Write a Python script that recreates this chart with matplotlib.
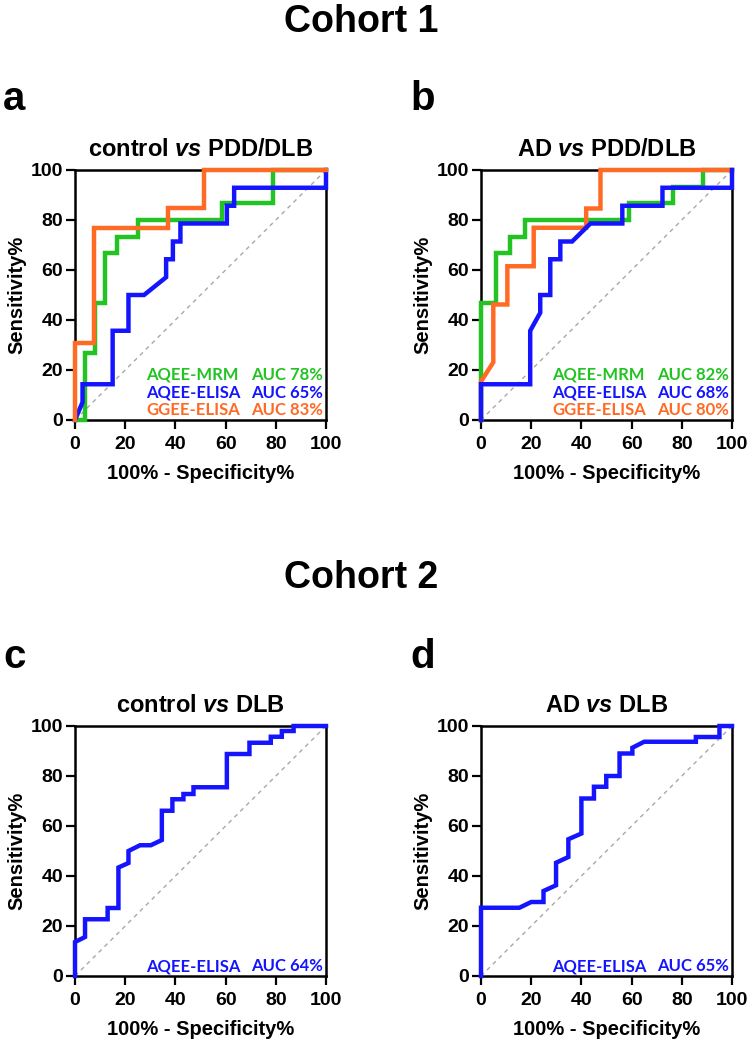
import matplotlib
matplotlib.use("Agg")
import matplotlib.pyplot as plt

# ---------------- data ----------------
ticks = [0, 20, 40, 60, 80, 100]

# Panel a: control vs PDD/DLB (Cohort 1)
a_mrm_x = [0, 4, 4, 8, 8, 12, 12, 16.6, 16.6, 25, 25, 58.5, 58.5, 79, 79, 100]
a_mrm_y = [0, 0, 26.7, 26.7, 46.7, 46.7, 66.7, 66.7, 73.3, 73.3, 80, 80, 86.7, 86.7, 100, 100]
a_elisa_x = [0, 3, 3, 15, 15, 21.3, 21.3, 27.5, 36.3, 36.3, 39, 39, 42, 42, 60.5, 60.5, 63.4, 63.4, 100, 100]
a_elisa_y = [0, 7.1, 14.3, 14.3, 35.7, 35.7, 50, 50, 57.1, 64.3, 64.3, 71.4, 71.4, 78.6, 78.6, 85.7, 85.7, 92.9, 92.9, 100]
a_ggee_x = [0, 0, 7.7, 7.7, 37.2, 37.2, 51.5, 51.5, 100]
a_ggee_y = [0, 30.8, 30.8, 76.9, 76.9, 84.6, 84.6, 100, 100]
a_auc = ["AUC 78%", "AUC 65%", "AUC 83%"]

# Panel b: AD vs PDD/DLB (Cohort 1)
b_mrm_x = [0, 0, 6, 6, 11.6, 11.6, 17.6, 17.6, 58.9, 58.9, 76.3, 76.3, 88.3, 88.3, 100]
b_mrm_y = [0, 46.7, 46.7, 66.7, 66.7, 73.3, 73.3, 80, 80, 86.7, 86.7, 93.3, 93.3, 100, 100]
b_elisa_x = [0, 0, 19.6, 19.6, 23.6, 23.6, 27.6, 27.6, 31.6, 31.6, 36.3, 43.6, 56.3, 56.3, 72.3, 72.3, 100, 100]
b_elisa_y = [0, 14.3, 14.3, 35.7, 42.9, 50, 50, 64.3, 64.3, 71.4, 71.4, 78.6, 78.6, 85.7, 85.7, 92.9, 92.9, 100]
b_ggee_x = [0, 0, 4.9, 4.9, 10.5, 10.5, 21, 21, 41.9, 41.9, 47.6, 47.6, 100]
b_ggee_y = [0, 15.4, 23.1, 46.2, 46.2, 61.5, 61.5, 76.9, 76.9, 84.6, 84.6, 100, 100]
b_auc = ["AUC 82%", "AUC 68%", "AUC 80%"]

# Panel c: control vs DLB (Cohort 2)
c_elisa_x = [0, 0, 4, 4, 13, 13, 17.3, 17.3, 21.3, 21.3, 25.9, 30.2, 34.6, 34.6, 38.8, 38.8,
             43.2, 43.2, 47.2, 47.2, 60.5, 60.5, 69.5, 69.5, 78, 78, 82.4, 82.4, 87.1, 87.1, 100]
c_elisa_y = [0, 13.6, 15.6, 22.7, 22.7, 27.2, 27.2, 43.4, 45.2, 50, 52.3, 52.3, 54.4, 66.1, 66.1, 70.7,
             70.7, 72.8, 72.8, 75.5, 75.5, 88.8, 88.8, 93.3, 93.3, 95.7, 95.7, 98, 98, 100, 100]
c_auc = ["AUC 64%"]

# Panel d: AD vs DLB (Cohort 2)
d_elisa_x = [0, 0, 15.3, 20, 24.9, 24.9, 29.9, 29.9, 34.8, 34.8, 40, 40, 45, 45, 49.9, 49.9,
             55.2, 55.2, 60.3, 60.3, 65, 85.6, 85.6, 95, 95, 100]
d_elisa_y = [0, 27.3, 27.3, 29.6, 29.6, 34, 36.3, 45.3, 47.6, 54.7, 57, 71, 71, 75.7, 75.7, 80,
             80, 89, 89, 91.3, 93.7, 93.7, 95.6, 95.6, 100, 100]
d_auc = ["AUC 65%"]

names3 = ["AQEE-MRM", "AQEE-ELISA", "GGEE-ELISA"]
names1 = ["AQEE-ELISA"]

GREEN = "#22C322"
BLUE = "#1414FF"
ORANGE = "#FF6A25"

# ---------------- style ----------------
plt.rcParams["font.family"] = ["Liberation Sans", "DejaVu Sans"]
plt.rcParams["font.weight"] = "bold"
plt.rcParams["mathtext.fontset"] = "custom"
plt.rcParams["mathtext.rm"] = "Liberation Sans:bold"
plt.rcParams["mathtext.it"] = "Liberation Sans:italic:bold"
plt.rcParams["mathtext.bf"] = "Liberation Sans:bold"

W, H = 749, 1048
fig = plt.figure(figsize=(W / 100, H / 100), dpi=100)


def px_axes(left, top, right, bottom):
    return fig.add_axes([left / W, 1 - bottom / H, (right - left) / W, (bottom - top) / H])


def style_ax(ax, title):
    ax.set_xlim(0, 100)
    ax.set_ylim(0, 100)
    ax.set_xticks(ticks)
    ax.set_yticks(ticks)
    ax.set_xticklabels([str(t) for t in ticks])
    ax.set_yticklabels([str(t) for t in ticks])
    for s in ax.spines.values():
        s.set_linewidth(1.8)
        s.set_zorder(2)
    ax.tick_params(axis="both", direction="out", length=6.5, width=1.6, labelsize=14)
    ax.tick_params(axis="y", pad=2)
    ax.tick_params(axis="x", pad=5)
    for lab in ax.get_xticklabels() + ax.get_yticklabels():
        lab.set_fontweight("bold")
    ax.plot([0, 100], [0, 100], color="#A8A8A8", lw=1.0, ls=(0, (3, 3)), zorder=1)
    ax.set_title(title, fontsize=17, fontweight="bold", pad=10)
    ax.set_xlabel("100% - Specificity%", fontsize=14.5, fontweight="bold", labelpad=8)
    ax.set_ylabel("Sensitivity%", fontsize=14.5, fontweight="bold", labelpad=3)


def curve(ax, x, y, color):
    ax.plot(x, y, color=color, lw=3.2, solid_joinstyle="miter", clip_on=False, zorder=3)


def auc_text(ax, names, aucs, colors):
    ys = [18, 11, 4] if len(names) == 3 else [4]
    for n, a, c, yy in zip(names, aucs, colors, ys):
        ax.text(28.3, yy, n, color=c, fontsize=12, fontweight="bold",
                family=["Lato", "DejaVu Sans"], ha="left", va="center", zorder=4)
        ax.text(98.6, yy, a, color=c, fontsize=12, fontweight="bold",
                family=["Lato", "DejaVu Sans"], ha="right", va="center", zorder=4)


ax_a = px_axes(75, 170, 326, 420)
ax_b = px_axes(481, 170, 732, 420)
ax_c = px_axes(75, 726, 326, 976)
ax_d = px_axes(481, 726, 732, 976)

style_ax(ax_a, r"control $vs$ PDD/DLB")
curve(ax_a, a_mrm_x, a_mrm_y, GREEN)
curve(ax_a, a_elisa_x, a_elisa_y, BLUE)
curve(ax_a, a_ggee_x, a_ggee_y, ORANGE)
auc_text(ax_a, names3, a_auc, [GREEN, BLUE, ORANGE])

style_ax(ax_b, r"AD $vs$ PDD/DLB")
curve(ax_b, b_mrm_x, b_mrm_y, GREEN)
curve(ax_b, b_ggee_x, b_ggee_y, ORANGE)
curve(ax_b, b_elisa_x, b_elisa_y, BLUE)
auc_text(ax_b, names3, b_auc, [GREEN, BLUE, ORANGE])

style_ax(ax_c, r"control $vs$ DLB")
curve(ax_c, c_elisa_x, c_elisa_y, BLUE)
auc_text(ax_c, names1, c_auc, [BLUE])

style_ax(ax_d, r"AD $vs$ DLB")
curve(ax_d, d_elisa_x, d_elisa_y, BLUE)
auc_text(ax_d, names1, d_auc, [BLUE])

# figure-level headings
fig.text(361 / W, 1 - 32 / H, "Cohort 1", fontsize=27, fontweight="bold", ha="center", va="baseline")
fig.text(361 / W, 1 - 588 / H, "Cohort 2", fontsize=27, fontweight="bold", ha="center", va="baseline")
fig.text(3 / W, 1 - 110 / H, "a", fontsize=29, fontweight="bold", ha="left", va="baseline")
fig.text(410 / W, 1 - 110 / H, "b", fontsize=29, fontweight="bold", ha="left", va="baseline")
fig.text(3 / W, 1 - 668 / H, "c", fontsize=29, fontweight="bold", ha="left", va="baseline")
fig.text(410 / W, 1 - 668 / H, "d", fontsize=29, fontweight="bold", ha="left", va="baseline")

fig.savefig("out.png", dpi=100)
